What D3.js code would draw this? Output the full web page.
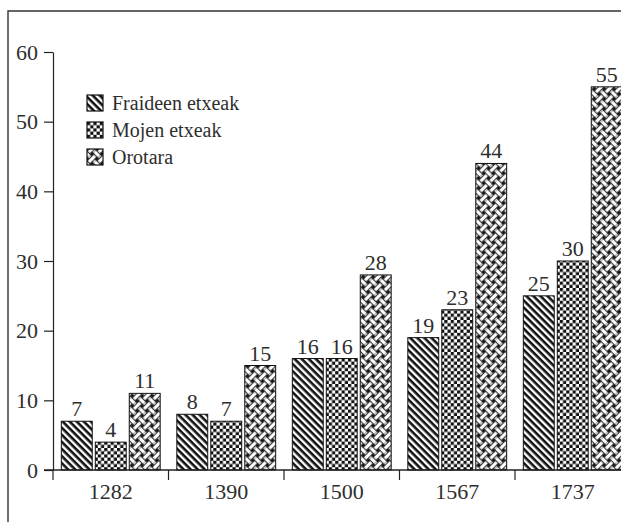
<!DOCTYPE html>
<html>
<head>
<meta charset="utf-8">
<script src="https://cdn.jsdelivr.net/npm/d3@7"></script>
<style>
  html, body { margin: 0; padding: 0; background: #fff; }
  svg { display: block; }
  text { font-family: "Liberation Serif", "Times New Roman", serif; fill: #2e2e2e; }
</style>
</head>
<body>
<div id="grafikoa"></div>
<script>
// ==============================
// DATUAK
// ==============================

const urteak = ["1282", "1390", "1500", "1567", "1737"];
const serieak = ["Fraideen etxeak", "Mojen etxeak", "Orotara"];
const fraideenEtxeak = [7, 8, 16, 19, 25];
const mojenEtxeak = [4, 7, 16, 23, 30];
const orotara = [11, 15, 28, 44, 55];
const yTikak = [0, 10, 20, 30, 40, 50, 60];

const balioak = [fraideenEtxeak, mojenEtxeak, orotara];
const patroiak = ["marrak", "xakea", "ehundura"];

// ==============================
// SVG ETA ESKALAK
// ==============================

const W = 621, H = 522;

const svg = d3.select("#grafikoa").append("svg")
  .attr("width", W)
  .attr("height", H);

svg.append("rect").attr("width", W).attr("height", H).attr("fill", "#fff");

const x0 = d3.scaleBand()
  .domain(urteak)
  .range([53, 630.5]);

const x1 = d3.scaleBand()
  .domain(serieak)
  .range([0, x0.bandwidth()])
  .paddingInner(0.09)
  .paddingOuter(0.245);

const y = d3.scaleLinear()
  .domain([0, 60])
  .range([470, 52]);

// ==============================
// PATROIAK
// ==============================

const defs = svg.append("defs");

// marra diagonalak
const marrak = defs.append("pattern")
  .attr("id", "marrak")
  .attr("patternUnits", "userSpaceOnUse")
  .attr("width", 5).attr("height", 5)
  .attr("patternTransform", "rotate(45)");
marrak.append("rect").attr("width", 5).attr("height", 5).attr("fill", "#fff");
marrak.append("rect").attr("width", 5).attr("height", 2.6).attr("fill", "#111");

// xake taula
const xakea = defs.append("pattern")
  .attr("id", "xakea")
  .attr("patternUnits", "userSpaceOnUse")
  .attr("width", 6.4).attr("height", 6.4);
xakea.append("rect").attr("width", 6.4).attr("height", 6.4).attr("fill", "#fff");
xakea.append("rect").attr("width", 3.2).attr("height", 3.2).attr("fill", "#111");
xakea.append("rect").attr("x", 3.2).attr("y", 3.2).attr("width", 3.2).attr("height", 3.2).attr("fill", "#111");

// ehundura (saskigintza)
const a = 7, w = 3.4, b = 1;
const ehundura = defs.append("pattern")
  .attr("id", "ehundura")
  .attr("patternUnits", "userSpaceOnUse")
  .attr("width", 2 * a).attr("height", 2 * a)
  .attr("patternTransform", "rotate(45)");
ehundura.append("rect").attr("width", 2 * a).attr("height", 2 * a).attr("fill", "#111");
[a / 2, 3 * a / 2].forEach(c => {
  ehundura.append("rect").attr("x", 0).attr("y", c - w / 2).attr("width", 2 * a).attr("height", w).attr("fill", "#fff");
});
[a / 2, 3 * a / 2].forEach(c => {
  ehundura.append("rect").attr("x", c - w / 2 - b).attr("y", 0).attr("width", w + 2 * b).attr("height", 2 * a).attr("fill", "#111");
  ehundura.append("rect").attr("x", c - w / 2).attr("y", 0).attr("width", w).attr("height", 2 * a).attr("fill", "#fff");
});
[[a / 2, a / 2], [3 * a / 2, 3 * a / 2]].forEach(([cx, cy]) => {
  ehundura.append("rect").attr("x", cx - w / 2 - b).attr("y", cy - w / 2 - b).attr("width", w + 2 * b).attr("height", w + 2 * b).attr("fill", "#111");
  ehundura.append("rect").attr("x", cx - w / 2 - b).attr("y", cy - w / 2).attr("width", w + 2 * b).attr("height", w).attr("fill", "#fff");
});

// ==============================
// MARKOA
// ==============================

svg.append("path")
  .attr("d", `M8,${H} V11 H${W}`)
  .attr("fill", "none")
  .attr("stroke", "#333")
  .attr("stroke-width", 1.4);

// ==============================
// BARRAK
// ==============================

const taldeak = svg.append("g")
  .selectAll("g")
  .data(urteak)
  .join("g")
  .attr("transform", d => `translate(${x0(d)},0)`);

const barraDatuak = (urtea, i) => serieak.map((s, j) => ({ serie: s, balioa: balioak[j][i], patroia: patroiak[j] }));

taldeak.selectAll("rect")
  .data((d, i) => barraDatuak(d, i))
  .join("rect")
  .attr("x", d => x1(d.serie))
  .attr("y", d => y(d.balioa))
  .attr("width", x1.bandwidth())
  .attr("height", d => y(0) - y(d.balioa))
  .attr("fill", d => `url(#${d.patroia})`)
  .attr("stroke", "#111")
  .attr("stroke-width", 1);

taldeak.selectAll("text")
  .data((d, i) => barraDatuak(d, i))
  .join("text")
  .attr("x", d => x1(d.serie) + x1.bandwidth() / 2)
  .attr("y", d => y(d.balioa) - 5)
  .attr("text-anchor", "middle")
  .attr("font-size", 22)
  .text(d => d.balioa);

// ==============================
// ARDATZAK
// ==============================

const yArdatza = svg.append("g")
  .attr("transform", "translate(53,0)")
  .call(d3.axisLeft(y).tickValues(yTikak).tickSize(9).tickSizeOuter(0).tickPadding(6));
yArdatza.selectAll("line, path").attr("stroke", "#222").attr("stroke-width", 1.2);
yArdatza.selectAll("text")
  .attr("font-size", 22)
  .attr("font-family", "Liberation Serif, serif")
  .attr("fill", "#2e2e2e");

// x ardatzaren lerroa
svg.append("line")
  .attr("x1", 44).attr("x2", W)
  .attr("y1", y(0)).attr("y2", y(0))
  .attr("stroke", "#222")
  .attr("stroke-width", 1.4);

// talde arteko marrak
svg.append("g")
  .selectAll("line")
  .data(urteak)
  .join("line")
  .attr("x1", d => x0(d)).attr("x2", d => x0(d))
  .attr("y1", y(0)).attr("y2", y(0) + 10)
  .attr("stroke", "#222")
  .attr("stroke-width", 1.2);

svg.append("g")
  .selectAll("text")
  .data(urteak)
  .join("text")
  .attr("x", d => x0(d) + x0.bandwidth() / 2)
  .attr("y", 499)
  .attr("text-anchor", "middle")
  .attr("font-size", 22)
  .text(d => d);

// ==============================
// LEGENDA
// ==============================

const legenda = svg.append("g")
  .selectAll("g")
  .data(serieak)
  .join("g")
  .attr("transform", (d, i) => `translate(87,${95 + i * 27})`);

legenda.append("rect")
  .attr("width", 16).attr("height", 16)
  .attr("fill", (d, i) => `url(#${patroiak[i]})`)
  .attr("stroke", "#111")
  .attr("stroke-width", 1.2);

legenda.append("text")
  .attr("x", 25)
  .attr("y", 15)
  .attr("font-size", 20)
  .text(d => d);
</script>
</body>
</html>
